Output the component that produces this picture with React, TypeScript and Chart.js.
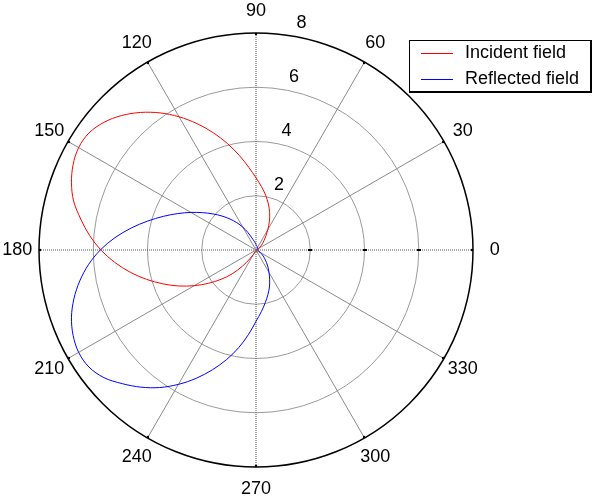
import React, { useEffect, useRef } from 'react';
import { Chart, registerables } from 'chart.js';

Chart.register(...registerables);

// Polar angles (degrees, counter-clockwise from 0 = right), 5 degree sampling
const ANGLES = [
  0, 5, 10, 15, 20, 25, 30, 35, 40, 45, 50, 55,
  60, 65, 70, 75, 80, 85, 90, 95, 100, 105, 110, 115,
  120, 125, 130, 135, 140, 145, 150, 155, 160, 165, 170, 175,
  180, 185, 190, 195, 200, 205, 210, 215, 220, 225, 230, 235,
  240, 245, 250, 255, 260, 265, 270, 275, 280, 285, 290, 295,
  300, 305, 310, 315, 320, 325, 330, 335, 340, 345, 350, 355,
];

// Incident field magnitude at each angle
const INCIDENT = [
  0.06, 0.06, 0.07, 0.07, 0.08, 0.09, 0.11, 0.14, 0.24, 0.35, 0.46, 0.64,
  0.87, 1.17, 1.47, 1.76, 2.05, 2.34, 2.66, 3.06, 3.54, 4.06, 4.6, 5.14,
  5.67, 6.17, 6.62, 7.01, 7.32, 7.52, 7.55, 7.44, 7.24, 6.96, 6.56, 6.16,
  5.72, 5.23, 4.71, 4.18, 3.65, 3.14, 2.63, 2.14, 1.68, 1.24, 0.78, 0.4,
  0.18, 0.1, 0.07, 0.06, 0.06, 0.06, 0.06, 0.06, 0.06, 0.06, 0.06, 0.06,
  0.06, 0.06, 0.06, 0.06, 0.06, 0.06, 0.06, 0.06, 0.06, 0.06, 0.06, 0.06,
];

// Reflected field magnitude at each angle
const REFLECTED = [
  0.07, 0.07, 0.07, 0.07, 0.07, 0.07, 0.07, 0.07, 0.08, 0.08, 0.09, 0.1,
  0.11, 0.12, 0.13, 0.14, 0.15, 0.17, 0.2, 0.25, 0.31, 0.39, 0.51, 0.72,
  0.97, 1.23, 1.49, 1.77, 2.07, 2.4, 2.77, 3.18, 3.63, 4.13, 4.67, 5.22,
  5.74, 6.2, 6.6, 6.95, 7.24, 7.44, 7.55, 7.52, 7.32, 6.97, 6.6, 6.19,
  5.72, 5.22, 4.7, 4.18, 3.65, 3.12, 2.63, 2.28, 1.97, 1.7, 1.45, 1.19,
  0.96, 0.77, 0.6, 0.46, 0.35, 0.25, 0.17, 0.12, 0.1, 0.08, 0.08, 0.07,
];

const SERIES_NAMES = ['Incident field', 'Reflected field'];
const SERIES_COLORS = ['#ff0000', '#0000ff'];

const ANGLE_LABELS = [0, 30, 60, 90, 120, 150, 180, 210, 240, 270, 300, 330];
const RADIAL_TICKS = [2, 4, 6, 8];
const R_MAX = 8;

const FONT = '18px "Liberation Sans", Arial, Helvetica, sans-serif';

// Radar index i sits at clockwise angle 5*i from 3 o'clock (startAngle 90),
// i.e. at polar angle (360 - 5*i) % 360.
const n = ANGLES.length;
const idxFor = (i: number) => (n - i) % n;
const radarOrder = (vals: number[]) => ANGLES.map((_, i) => vals[idxFor(i)]);
const angleAt = (i: number) => ANGLES[idxFor(i)];

const polarDecor = {
  id: 'polarDecor',
  afterDatasetsDraw(chart: any) {
    const scale = chart.scales.r;
    const ctx = chart.ctx as CanvasRenderingContext2D;
    const xc = scale.xCenter;
    const yc = scale.yCenter;
    ctx.save();
    ctx.fillStyle = '#000';
    // small black marks where rings cross the 0-degree axis
    RADIAL_TICKS.forEach((v) => {
      if (v === R_MAX) return;
      const d = scale.getDistanceFromCenterForValue(v);
      ctx.fillRect(Math.round(xc + d) - 2, Math.round(yc) - 1, 4, 2);
    });
    // marks at spoke ends on the outer circle
    const dOut = scale.getDistanceFromCenterForValue(R_MAX);
    ANGLE_LABELS.forEach((a) => {
      const t = (a * Math.PI) / 180;
      ctx.beginPath();
      ctx.arc(xc + (dOut - 1) * Math.cos(t), yc - (dOut - 1) * Math.sin(t), 1.2, 0, Math.PI * 2);
      ctx.fill();
    });
    ctx.restore();
  },
  afterDraw(chart: any) {
    const scale = chart.scales.r;
    const ctx = chart.ctx as CanvasRenderingContext2D;
    const xc = scale.xCenter;
    const yc = scale.yCenter;
    ctx.save();
    ctx.setLineDash([]);
    ctx.font = FONT;
    ctx.fillStyle = '#000';

    // angle labels at 1.1 * rmax, centered
    const dl = scale.getDistanceFromCenterForValue(R_MAX * 1.1);
    ctx.textAlign = 'center';
    ctx.textBaseline = 'middle';
    ANGLE_LABELS.forEach((a) => {
      const t = (a * Math.PI) / 180;
      ctx.fillText(String(a), xc + dl * Math.cos(t), yc - dl * Math.sin(t));
    });

    // radial tick labels along 82 degrees
    const t82 = (82 * Math.PI) / 180;
    ctx.textAlign = 'left';
    ctx.textBaseline = 'bottom';
    RADIAL_TICKS.forEach((v) => {
      const d = scale.getDistanceFromCenterForValue(v + 0.1);
      ctx.fillText('  ' + v, xc + d * Math.cos(t82), yc - d * Math.sin(t82));
    });

    // legend box
    const bx = 409, by = 40, bw = 183, bh = 52;
    ctx.fillStyle = '#fff';
    ctx.fillRect(bx, by, bw, bh);
    ctx.fillStyle = '#000';
    ctx.fillRect(bx, by, bw, 1);
    ctx.fillRect(bx, by, 1, bh);
    ctx.fillRect(bx, by + bh - 1, bw, 2);
    ctx.fillRect(bx + bw - 2, by, 2, bh);

    ctx.textAlign = 'left';
    ctx.textBaseline = 'middle';
    SERIES_NAMES.forEach((name, i) => {
      const y = 53 + i * 26;
      ctx.fillStyle = SERIES_COLORS[i];
      ctx.fillRect(421, y, 32, 1);
      ctx.fillStyle = '#000';
      ctx.fillText(name, 465, y + 0.5);
    });
    ctx.restore();
  },
};

export default function App() {
  const ref = useRef<HTMLCanvasElement | null>(null);

  useEffect(() => {
    if (!ref.current) return;
    const chart = new Chart(ref.current, {
      type: 'radar',
      data: {
        labels: ANGLES.map((_, i) => String(angleAt(i))),
        datasets: [
          {
            label: SERIES_NAMES[0],
            data: radarOrder(INCIDENT),
            borderColor: SERIES_COLORS[0],
            borderWidth: 1,
            pointRadius: 0,
            fill: false,
            tension: 0.33,
          },
          {
            label: SERIES_NAMES[1],
            data: radarOrder(REFLECTED),
            borderColor: SERIES_COLORS[1],
            borderWidth: 1,
            pointRadius: 0,
            fill: false,
            tension: 0.33,
          },
        ],
      },
      options: {
        animation: false,
        responsive: false,
        devicePixelRatio: 1,
        layout: { padding: { left: 39, right: 120, top: 33, bottom: 35 } },
        plugins: {
          legend: { display: false },
          tooltip: { enabled: false },
        },
        scales: {
          r: {
            min: 0,
            max: R_MAX,
            startAngle: 90,
            ticks: { display: false, stepSize: 2 },
            pointLabels: { display: false },
            grid: {
              circular: true,
              color: (c: any) => (c.tick && c.tick.value === R_MAX ? '#000' : '#9a9a9a'),
              lineWidth: (c: any) => (c.tick && c.tick.value === R_MAX ? 1.5 : 1),
            },
            angleLines: {
              display: true,
              color: (c: any) => (angleAt(c.index) % 90 === 0 ? '#555' : '#8a8a8a'),
              lineWidth: (c: any) => (angleAt(c.index) % 30 === 0 ? 1 : 0),
              borderDash: (c: any) => (angleAt(c.index) % 90 === 0 ? [1, 1] : []),
            },
          },
        },
      },
      plugins: [polarDecor],
    } as any);
    return () => chart.destroy();
  }, []);

  return (
    <div style={{ position: 'absolute', left: 0, top: 0, width: 593, height: 502, background: '#fff' }}>
      <canvas ref={ref} width={593} height={502} style={{ display: 'block' }} />
    </div>
  );
}
